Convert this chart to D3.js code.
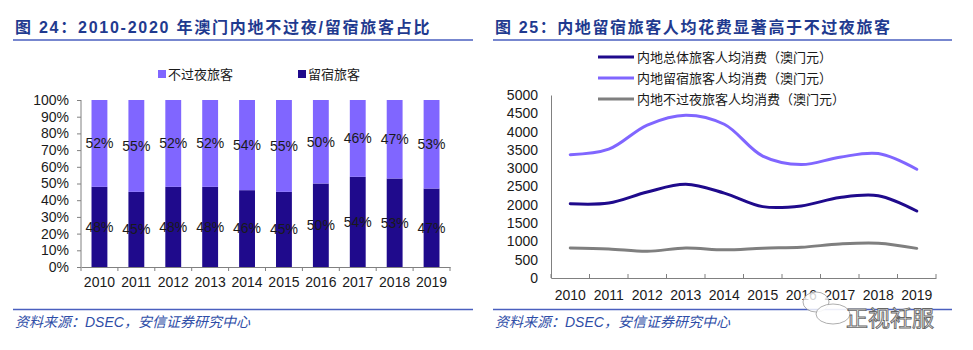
<!DOCTYPE html>
<html>
<head>
<meta charset="utf-8">
<script src="https://cdn.jsdelivr.net/npm/d3@7/dist/d3.min.js"></script>
<style>
  html, body { margin: 0; padding: 0; background: #fff; }
  svg { display: block; }
  text { font-family: "Liberation Sans", Arial, "Noto Sans CJK SC", sans-serif; }
</style>
</head>
<body>
<svg id="chart" width="973" height="350"></svg>
<script>
// ---------- data ----------
const years = ["2010","2011","2012","2013","2014","2015","2016","2017","2018","2019"];
const overnightShare = [48, 45, 48, 48, 46, 45, 50, 54, 53, 47];     // 留宿旅客 %
const sameDayShare   = [52, 55, 52, 52, 54, 55, 50, 46, 47, 53];     // 不过夜旅客 %
const pctTicks = [0,10,20,30,40,50,60,70,80,90,100];

const spendTotal     = [2030, 2050, 2350, 2560, 2320, 1950, 1970, 2200, 2250, 1830];
const spendOvernight = [3370, 3520, 4180, 4450, 4200, 3330, 3100, 3300, 3400, 2970];
const spendSameDay   = [820, 795, 730, 820, 770, 815, 840, 930, 950, 810];
const spendTicks = [0,500,1000,1500,2000,2500,3000,3500,4000,4500,5000];

const leftTitle = "图 24：2010-2020 年澳门内地不过夜/留宿旅客占比";
const rightTitle = "图 25：内地留宿旅客人均花费显著高于不过夜旅客";
const barLegend = ["不过夜旅客", "留宿旅客"];
const lineLegend = ["内地总体旅客人均消费（澳门元）", "内地留宿旅客人均消费（澳门元）", "内地不过夜旅客人均消费（澳门元）"];
const sourceText = "资料来源：DSEC，安信证券研究中心";

// ---------- style ----------
const C_LIGHT = "#8066FF", C_DARK = "#1F0A8C", C_GRAY = "#7F7F7F";
const C_TITLE = "#1F3A8F", C_RULE = "#4A5FBF", C_AXIS = "#808080", C_TEXT = "#1a1a1a";

const svg = d3.select("#chart");

function header(x0, x1, title, ls) {
  svg.append("text").attr("x", x0 + 2).attr("y", 33)
    .attr("font-size", 16).attr("font-weight", "bold").attr("fill", C_TITLE)
    .attr("letter-spacing", ls + "px").text(title);
  svg.append("line").attr("x1", x0).attr("x2", x1).attr("y1", 40).attr("y2", 40)
    .attr("stroke", C_RULE).attr("stroke-width", 1.5);
  svg.append("line").attr("x1", x0).attr("x2", x1).attr("y1", 309.5).attr("y2", 309.5)
    .attr("stroke", C_RULE).attr("stroke-width", 1.5);
  svg.append("text").attr("x", x0 + 2).attr("y", 327)
    .attr("font-size", 14).attr("font-style", "italic").attr("fill", "#2E4DA7")
    .text(sourceText);
}
header(13, 473, leftTitle, 1.75);
header(493, 952, rightTitle, 1.6);

// ---------- left: stacked 100% bars ----------
{
  const x = d3.scaleBand().domain(years).range([81, 450]).paddingInner(0.57).paddingOuter(0.285);
  const y = d3.scaleLinear().domain([0, 100]).range([267, 100]);
  const g = svg.append("g");

  const rows = years.map((yr, i) => ({ yr, a: overnightShare[i], b: sameDayShare[i] }));
  g.selectAll("rect.dark").data(rows).join("rect").attr("class", "dark")
    .attr("x", d => x(d.yr)).attr("width", x.bandwidth())
    .attr("y", d => y(d.a)).attr("height", d => y(0) - y(d.a)).attr("fill", C_DARK);
  g.selectAll("rect.light").data(rows).join("rect").attr("class", "light")
    .attr("x", d => x(d.yr)).attr("width", x.bandwidth())
    .attr("y", d => y(d.a + d.b)).attr("height", d => y(d.a) - y(d.a + d.b)).attr("fill", C_LIGHT);

  g.selectAll("text.la").data(rows).join("text").attr("class", "la")
    .attr("x", d => x(d.yr) + x.bandwidth() / 2).attr("y", d => y(d.a / 2))
    .attr("dy", "0.35em").attr("text-anchor", "middle").attr("font-size", 14).attr("fill", C_TEXT)
    .text(d => d.a + "%");
  g.selectAll("text.lb").data(rows).join("text").attr("class", "lb")
    .attr("x", d => x(d.yr) + x.bandwidth() / 2).attr("y", d => y(d.a + d.b / 2))
    .attr("dy", "0.35em").attr("text-anchor", "middle").attr("font-size", 14).attr("fill", C_TEXT)
    .text(d => d.b + "%");

  const ya = g.append("g").attr("transform", "translate(81,0)")
    .call(d3.axisLeft(y).tickValues(pctTicks).tickFormat(d => d + "%").tickSize(4).tickPadding(8));
  ya.selectAll("path,line").attr("stroke", C_AXIS);
  ya.selectAll("text").attr("font-size", 14).attr("fill", C_TEXT);
  ya.select(".domain").attr("d", `M0,${y(100)}V${y(0)}`);

  const xa = g.append("g").attr("transform", "translate(0,267)")
    .call(d3.axisBottom(x).tickSize(0).tickPadding(10));
  xa.select(".domain").attr("stroke", C_AXIS);
  xa.selectAll("text").attr("font-size", 14).attr("fill", C_TEXT);
  const bounds = d3.range(years.length + 1).map(i => x.range()[0] + i * x.step());
  g.selectAll("line.xt").data(bounds).join("line").attr("class", "xt")
    .attr("x1", d => d).attr("x2", d => d).attr("y1", 267).attr("y2", 271).attr("stroke", C_AXIS);

  const lg = [
    { label: barLegend[0], color: C_LIGHT, x: 158 },
    { label: barLegend[1], color: C_DARK, x: 298 }
  ];
  lg.forEach(d => {
    svg.append("rect").attr("x", d.x).attr("y", 70).attr("width", 8).attr("height", 8).attr("fill", d.color);
    svg.append("text").attr("x", d.x + 10).attr("y", 74).attr("dy", "0.35em")
      .attr("font-size", 13).attr("fill", C_TEXT).text(d.label);
  });
}

// ---------- right: smoothed lines ----------
{
  const x = d3.scaleBand().domain(years).range([551, 936]);
  const y = d3.scaleLinear().domain([0, 5000]).range([278, 95]);
  const g = svg.append("g");

  const ya = g.append("g").attr("transform", "translate(551,0)")
    .call(d3.axisLeft(y).tickValues(spendTicks).tickFormat(d3.format("d")).tickSize(0).tickPadding(13));
  ya.select(".domain").attr("stroke", C_AXIS);
  ya.selectAll("text").attr("font-size", 14).attr("fill", C_TEXT);

  const xa = g.append("g").attr("transform", "translate(0,278)")
    .call(d3.axisBottom(x).tickSize(0).tickPadding(12));
  xa.select(".domain").attr("stroke", C_AXIS);
  xa.selectAll("text").attr("font-size", 14).attr("fill", C_TEXT);
  const bounds = d3.range(years.length + 1).map(i => x.range()[0] + i * x.step());
  g.selectAll("line.xt").data(bounds).join("line").attr("class", "xt")
    .attr("x1", d => d).attr("x2", d => d).attr("y1", 278).attr("y2", 274).attr("stroke", C_AXIS);

  const series = [
    { vals: spendTotal, color: C_DARK },
    { vals: spendOvernight, color: C_LIGHT },
    { vals: spendSameDay, color: C_GRAY }
  ];
  const line = d3.line()
    .x((d, i) => x(years[i]) + x.bandwidth() / 2)
    .y(d => y(d))
    .curve(d3.curveCatmullRom.alpha(0.5));
  series.forEach(s => {
    g.append("path").attr("d", line(s.vals)).attr("fill", "none")
      .attr("stroke", s.color).attr("stroke-width", 3).attr("stroke-linecap", "round");
  });

  const rowsY = [57, 78, 99];
  series.forEach((s, i) => {
    svg.append("line").attr("x1", 598).attr("x2", 634).attr("y1", rowsY[i]).attr("y2", rowsY[i])
      .attr("stroke", s.color).attr("stroke-width", 3);
    svg.append("text").attr("x", 637).attr("y", rowsY[i]).attr("dy", "0.35em")
      .attr("font-size", 13).attr("fill", C_TEXT).text(lineLegend[i]);
  });
}

// ---------- watermark ----------
{
  const w = svg.append("g");
  w.append("ellipse").attr("cx", 816).attr("cy", 302).attr("rx", 13).attr("ry", 10)
    .attr("fill", "rgba(255,255,255,0.8)").attr("stroke", "#999").attr("stroke-width", 0.8);
  w.append("ellipse").attr("cx", 833).attr("cy", 314).attr("rx", 17).attr("ry", 10)
    .attr("fill", "rgba(255,255,255,0.9)").attr("stroke", "#999").attr("stroke-width", 0.8);
  w.append("text").attr("x", 846).attr("y", 326).attr("font-size", 22)
    .attr("font-family", "Noto Sans CJK SC").attr("fill", "#fff")
    .attr("stroke", "#666").attr("stroke-width", 0.9).text("正视衽服");
}
</script>
</body>
</html>
